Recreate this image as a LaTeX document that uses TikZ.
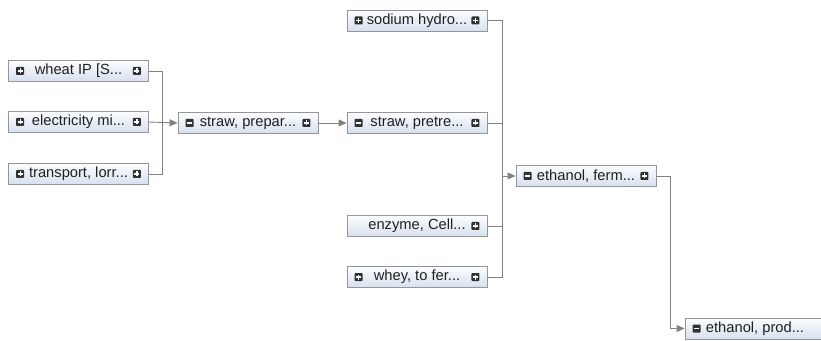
\documentclass[tikz,border=0pt]{standalone}
\usepackage{fontspec}
\setmainfont{Liberation Sans}
\usetikzlibrary{arrows.meta}
\definecolor{edge}{RGB}{150,150,150}
\definecolor{wire}{RGB}{130,130,130}
\definecolor{boxtop}{RGB}{252,253,255}
\definecolor{boxbot}{RGB}{214,224,238}
\definecolor{iconfill}{RGB}{50,50,50}
\tikzset{
  item/.style={rectangle, draw=edge, line width=0.9pt, top color=boxtop, bottom color=boxbot,
    minimum width=140pt, minimum height=21pt, inner sep=0pt,
    font=\fontsize{14.7}{16}\selectfont, text=black!88},
  wire/.style={draw=wire, line width=0.9pt},
  arr/.style={wire, -{Triangle[length=8pt,width=7pt]}},
  pluspic/.pic={
    \fill[iconfill, rounded corners=0.8pt] (-4pt,-4pt) rectangle (4pt,4pt);
    \draw[white, line width=1.1pt] (-2.5pt,0) -- (2.5pt,0) (0,-2.5pt) -- (0,2.5pt);
  },
  minuspic/.pic={
    \fill[iconfill, rounded corners=0.8pt] (-4pt,-4pt) rectangle (4pt,4pt);
    \draw[white, line width=1.1pt] (-2.5pt,0) -- (2.5pt,0);
  },
}
% icons on the left and right side of a box
\newcommand\lefticon[2]{\pic at ([xshift=12pt]#1.west) {#2};}
\newcommand\righticon[1]{\pic at ([xshift=-12pt]#1.east) {pluspic};}
\begin{document}
\begin{tikzpicture}[x=1pt,y=1pt]
\useasboundingbox (0,0) rectangle (821,340);
\clip (0,0) rectangle (821,340);

% inputs of the straw preparation
\node[item] (wheat) at (78.5,269) {wheat IP [S...};
\node[item] (elec)  at (78.5,218) {electricity mi...};
\node[item] (trans) at (78.5,166) {transport, lorr...};

\node[item] (prep)  at (248,217) {straw, prepar...};
\node[item] (pretre) at (417,217) {straw, pretre...};

% inputs of the fermentation
\node[item] (sodium) at (417,319.5) {sodium hydro...};
\node[item] (enzyme) at (417,114) {enzyme, Cell...};
\node[item] (whey)   at (417,63) {whey, to fer...};

\node[item] (ferm) at (586,164) {ethanol, ferm...};
\node[item] (prod) at (755,11.5) {ethanol, prod...};

% bus lines
\coordinate (busA) at (162,0);
\coordinate (busB) at (502,0);
\coordinate (busC) at (670,0);

\draw[wire] (wheat.east) -- (busA |- wheat.east) -- (busA |- trans.east) -- (trans.east);
\draw[arr] (elec.east) -- (prep.west);
\draw[arr] (prep.east) -- (pretre.west);

\draw[wire] (sodium.east) -- (busB |- sodium.east) -- (busB |- whey.east) -- (whey.east);
\draw[wire] (pretre.east) -- (busB |- pretre.east);
\draw[wire] (enzyme.east) -- (busB |- enzyme.east);
\draw[arr] (busB |- ferm.west) -- (ferm.west);

\draw[wire] (ferm.east) -- (busC |- ferm.east) -- (busC |- prod.west);
\draw[arr] (busC |- prod.west) -- (prod.west);

% expand / collapse icons
\lefticon{wheat}{pluspic}
\lefticon{elec}{pluspic}
\lefticon{trans}{pluspic}
\lefticon{prep}{minuspic}
\lefticon{pretre}{minuspic}
\lefticon{sodium}{pluspic}
\lefticon{whey}{pluspic}
\lefticon{ferm}{minuspic}
\lefticon{prod}{minuspic}
\righticon{wheat}
\righticon{elec}
\righticon{trans}
\righticon{prep}
\righticon{pretre}
\righticon{sodium}
\righticon{enzyme}
\righticon{whey}
\righticon{ferm}
\end{tikzpicture}
\end{document}
